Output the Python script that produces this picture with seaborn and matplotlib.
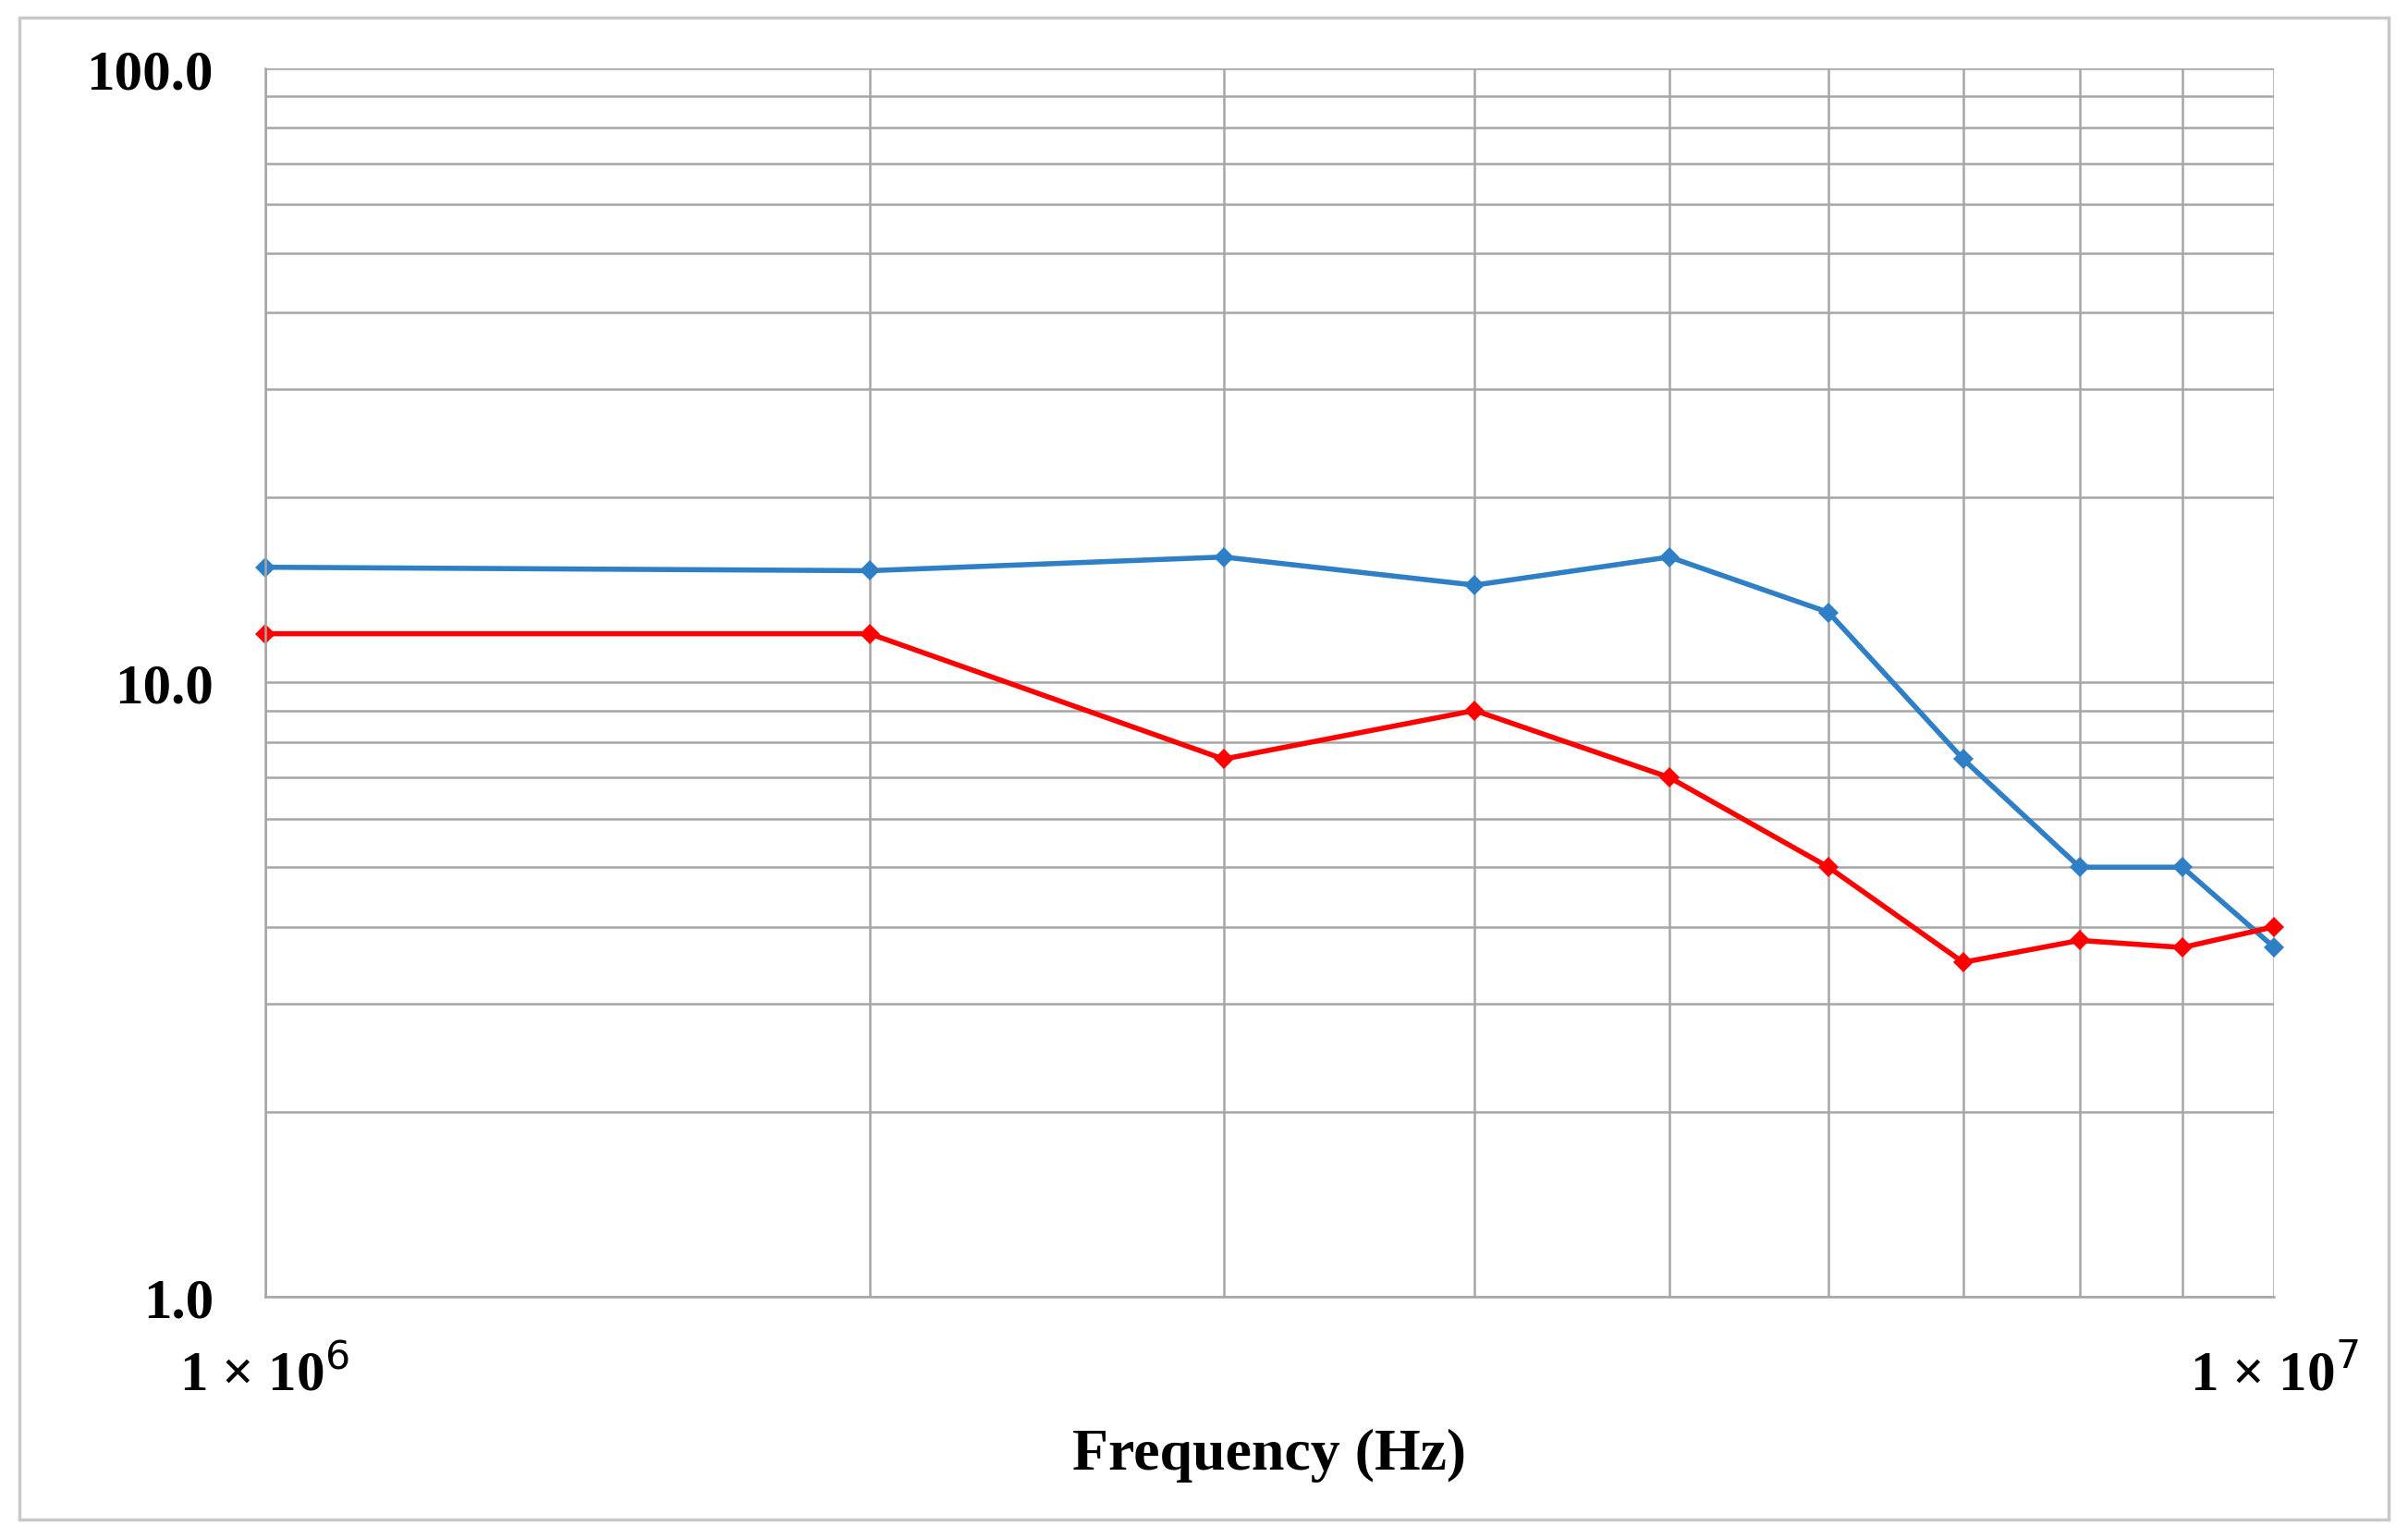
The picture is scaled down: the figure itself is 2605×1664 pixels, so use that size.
import matplotlib
matplotlib.use("Agg")
import matplotlib.pyplot as plt
import seaborn as sns
import pandas as pd
from matplotlib.ticker import FixedLocator, NullFormatter, FixedFormatter
from matplotlib.patches import Rectangle

freq = [1e6, 2e6, 3e6, 4e6, 5e6, 6e6, 7e6, 8e6, 9e6, 10e6]
blue_vals = [15.4, 15.2, 16.0, 14.4, 16.0, 13.0, 7.5, 5.0, 5.0, 3.7]
red_vals = [12.0, 12.0, 7.5, 9.0, 7.0, 5.0, 3.5, 3.8, 3.7, 4.0]

sns.set_theme(style="white")
plt.rcParams['font.family'] = ['Liberation Serif', 'DejaVu Serif']
plt.rcParams['text.color'] = 'black'
plt.rcParams['xtick.color'] = 'black'
plt.rcParams['ytick.color'] = 'black'

fig = plt.figure(figsize=(26.05, 16.65), dpi=100)
ax = fig.add_axes([0.110, 0.157, 0.8345, 0.798])
fig.patches.append(Rectangle((0.008, 0.012), 0.984, 0.976, transform=fig.transFigure,
                             fill=False, edgecolor='#c8c8c8', linewidth=2.5))

df = pd.DataFrame({'f': freq * 2, 'v': blue_vals + red_vals,
                   's': ['blue'] * len(freq) + ['red'] * len(freq)})
sns.lineplot(data=df, x='f', y='v', hue='s', palette={'blue': '#2f7fc6', 'red': '#ff0000'},
             marker='D', markersize=11, markeredgewidth=0, linewidth=4, legend=False, ax=ax)
for ln in ax.lines:
    ln.set_clip_on(False)

ax.set_xscale('log'); ax.set_yscale('log')
ax.set_xlim(1e6, 1e7); ax.set_ylim(1, 100)
ax.xaxis.set_major_locator(FixedLocator([1e6, 1e7]))
ax.xaxis.set_major_formatter(FixedFormatter(['1 × 10$^{6}$', '1 × 10$^{7}$']))
ax.xaxis.set_minor_locator(FixedLocator([2e6, 3e6, 4e6, 5e6, 6e6, 7e6, 8e6, 9e6]))
ax.xaxis.set_minor_formatter(NullFormatter())
ax.yaxis.set_major_locator(FixedLocator([1, 10, 100]))
ax.yaxis.set_major_formatter(FixedFormatter(['1.0', '10.0', '100.0']))
ax.yaxis.set_minor_locator(FixedLocator([k * d for d in (1, 10) for k in range(2, 10)]))
ax.yaxis.set_minor_formatter(NullFormatter())
ax.grid(True, which='both', color='#a6a6a6', linewidth=1.8)
for s in ['top', 'right']:
    ax.spines[s].set_visible(False)
for s in ['left', 'bottom']:
    ax.spines[s].set_color('#a6a6a6'); ax.spines[s].set_linewidth(1.8)
ax.tick_params(axis='both', which='both', length=0)
ax.tick_params(axis='y', labelsize=44, pad=40)
ax.tick_params(axis='x', labelsize=44, pad=40)
for t in ax.get_yticklabels() + ax.get_xticklabels():
    t.set_fontweight('bold')
ax.set_xlabel('Frequency (Hz)', fontsize=46, fontweight='bold', labelpad=20, color='black')
ax.set_ylabel('')
fig.savefig('out.png', dpi=100)
